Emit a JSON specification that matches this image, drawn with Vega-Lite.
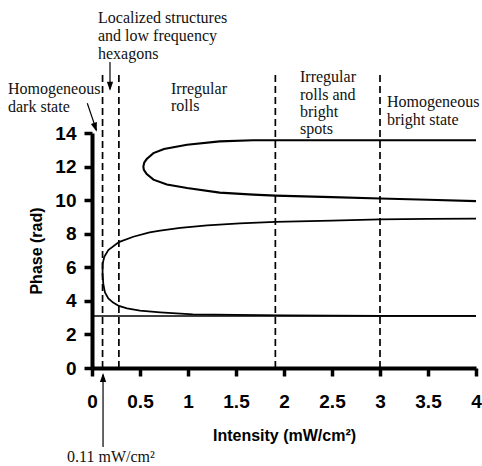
{
  "$schema": "https://vega.github.io/schema/vega-lite/v6.json",
  "width": 384,
  "height": 235,
  "autosize": {"type": "none"},
  "padding": {"left": 92, "top": 133, "right": 6, "bottom": 98},
  "background": "white",
  "config": {"view": {"stroke": null}, "axis": {"grid": false}},
  "datasets": {
    "curves": [
      {"series": "base", "ord": 0, "x": 0, "y": 3.1},
      {"series": "base", "ord": 1, "x": 4, "y": 3.1},
      {"series": "lower", "ord": 0, "x": 4.0, "y": 3.1},
      {"series": "lower", "ord": 1, "x": 3.0, "y": 3.11},
      {"series": "lower", "ord": 2, "x": 2.0, "y": 3.13},
      {"series": "lower", "ord": 3, "x": 1.5, "y": 3.16},
      {"series": "lower", "ord": 4, "x": 1.05, "y": 3.2},
      {"series": "lower", "ord": 5, "x": 0.71, "y": 3.32},
      {"series": "lower", "ord": 6, "x": 0.5, "y": 3.42},
      {"series": "lower", "ord": 7, "x": 0.365, "y": 3.55},
      {"series": "lower", "ord": 8, "x": 0.28, "y": 3.7},
      {"series": "lower", "ord": 9, "x": 0.22, "y": 3.9},
      {"series": "lower", "ord": 10, "x": 0.17, "y": 4.15},
      {"series": "lower", "ord": 11, "x": 0.135, "y": 4.5},
      {"series": "lower", "ord": 12, "x": 0.118, "y": 5.0},
      {"series": "lower", "ord": 13, "x": 0.11, "y": 5.6},
      {"series": "lower", "ord": 14, "x": 0.111, "y": 6.2},
      {"series": "lower", "ord": 15, "x": 0.128, "y": 6.63},
      {"series": "lower", "ord": 16, "x": 0.17, "y": 7.03},
      {"series": "lower", "ord": 17, "x": 0.28, "y": 7.5},
      {"series": "lower", "ord": 18, "x": 0.43, "y": 7.82},
      {"series": "lower", "ord": 19, "x": 0.6, "y": 8.08},
      {"series": "lower", "ord": 20, "x": 0.71, "y": 8.18},
      {"series": "lower", "ord": 21, "x": 0.92, "y": 8.35},
      {"series": "lower", "ord": 22, "x": 1.2, "y": 8.5},
      {"series": "lower", "ord": 23, "x": 1.54, "y": 8.62},
      {"series": "lower", "ord": 24, "x": 1.91, "y": 8.7},
      {"series": "lower", "ord": 25, "x": 2.5, "y": 8.78},
      {"series": "lower", "ord": 26, "x": 3.0, "y": 8.85},
      {"series": "lower", "ord": 27, "x": 3.5, "y": 8.88},
      {"series": "lower", "ord": 28, "x": 4.0, "y": 8.9},
      {"series": "upper", "ord": 0, "x": 4.0, "y": 9.94},
      {"series": "upper", "ord": 1, "x": 3.5, "y": 10.02},
      {"series": "upper", "ord": 2, "x": 3.0, "y": 10.1},
      {"series": "upper", "ord": 3, "x": 2.5, "y": 10.18},
      {"series": "upper", "ord": 4, "x": 1.91, "y": 10.27},
      {"series": "upper", "ord": 5, "x": 1.68, "y": 10.33},
      {"series": "upper", "ord": 6, "x": 1.33, "y": 10.45},
      {"series": "upper", "ord": 7, "x": 0.99, "y": 10.72},
      {"series": "upper", "ord": 8, "x": 0.78, "y": 10.93},
      {"series": "upper", "ord": 9, "x": 0.64, "y": 11.22},
      {"series": "upper", "ord": 10, "x": 0.57, "y": 11.55},
      {"series": "upper", "ord": 11, "x": 0.54, "y": 11.8},
      {"series": "upper", "ord": 12, "x": 0.535, "y": 12.0},
      {"series": "upper", "ord": 13, "x": 0.545, "y": 12.25},
      {"series": "upper", "ord": 14, "x": 0.57, "y": 12.45},
      {"series": "upper", "ord": 15, "x": 0.64, "y": 12.8},
      {"series": "upper", "ord": 16, "x": 0.75, "y": 13.05},
      {"series": "upper", "ord": 17, "x": 0.99, "y": 13.3},
      {"series": "upper", "ord": 18, "x": 1.33, "y": 13.5},
      {"series": "upper", "ord": 19, "x": 1.68, "y": 13.57},
      {"series": "upper", "ord": 20, "x": 2.5, "y": 13.57},
      {"series": "upper", "ord": 21, "x": 4.0, "y": 13.57}
    ],
    "dividers": [
      {"x": 0.11, "y": 0, "y2": 17.63},
      {"x": 0.28, "y": 0, "y2": 17.63},
      {"x": 1.91, "y": 0, "y2": 17.6},
      {"x": 3.0, "y": 0, "y2": 17.6}
    ],
    "labels": [
      {"x": 0.0625, "y": 20.55, "text": "Localized structures"},
      {"x": 0.0625, "y": 19.48, "text": "and low frequency"},
      {"x": 0.0625, "y": 18.41, "text": "hexagons"},
      {"x": -0.875, "y": 16.32, "text": "Homogeneous"},
      {"x": -0.875, "y": 15.25, "text": "dark state"},
      {"x": 0.823, "y": 16.35, "text": "Irregular"},
      {"x": 0.823, "y": 15.31, "text": "rolls"},
      {"x": 2.167, "y": 17.06, "text": "Irregular"},
      {"x": 2.167, "y": 15.97, "text": "rolls and"},
      {"x": 2.167, "y": 14.94, "text": "bright"},
      {"x": 2.167, "y": 13.94, "text": "spots"},
      {"x": 3.073, "y": 15.57, "text": "Homogeneous"},
      {"x": 3.073, "y": 14.48, "text": "bright state"},
      {"x": -0.26, "y": -5.6, "text": "0.11 mW/cm²"}
    ],
    "arrows": [
      {"x": 0.1875, "y": 18.23, "x2": 0.1875, "y2": 16.6},
      {"x": -0.049, "y": 15.77, "x2": 0.046, "y2": 14.17},
      {"x": 0.115, "y": -4.7, "x2": 0.115, "y2": -0.4}
    ],
    "heads": [
      {"x": 0.1875, "y": 16.52, "angle": 0},
      {"x": 0.049, "y": 14.08, "angle": 341.7},
      {"x": 0.115, "y": -0.3, "angle": 180}
    ]
  },
  "encoding": {
    "x": {
      "field": "x",
      "type": "quantitative",
      "scale": {"domain": [0, 4], "nice": false, "zero": false},
      "axis": {
        "values": [0, 0.5, 1, 1.5, 2, 2.5, 3, 3.5, 4],
        "format": "~g",
        "title": "Intensity (mW/cm²)",
        "domainColor": "black",
        "domainWidth": 4,
        "tickColor": "black",
        "tickWidth": 3.5,
        "tickSize": 8,
        "labelFont": "Liberation Sans",
        "labelFontWeight": "bold",
        "labelFontSize": 19,
        "labelColor": "black",
        "labelPadding": 16,
        "labelFlush": false,
        "labelOverlap": false,
        "titleFont": "Liberation Sans",
        "titleFontWeight": "bold",
        "titleFontSize": 16,
        "titleColor": "black",
        "titlePadding": 16
      }
    },
    "y": {
      "field": "y",
      "type": "quantitative",
      "scale": {"domain": [0, 14], "nice": false, "zero": false},
      "axis": {
        "values": [0, 2, 4, 6, 8, 10, 12, 14],
        "title": "Phase (rad)",
        "domainColor": "black",
        "domainWidth": 4,
        "tickColor": "black",
        "tickWidth": 3.5,
        "tickSize": 8,
        "labelFont": "Liberation Sans",
        "labelFontWeight": "bold",
        "labelFontSize": 19,
        "labelColor": "black",
        "labelPadding": 8,
        "labelFlush": false,
        "labelOverlap": false,
        "titleFont": "Liberation Sans",
        "titleFontWeight": "bold",
        "titleFontSize": 16,
        "titleColor": "black",
        "titlePadding": 10
      }
    }
  },
  "layer": [
    {
      "data": {"name": "curves"},
      "mark": {"type": "line", "color": "black", "interpolate": "linear", "clip": false},
      "encoding": {
        "detail": {"field": "series", "type": "nominal"},
        "order": {"field": "ord", "type": "quantitative"},
        "strokeWidth": {
          "field": "series",
          "type": "nominal",
          "scale": {"domain": ["base", "lower", "upper"], "range": [1.4, 2.1, 2.1]},
          "legend": null
        }
      }
    },
    {
      "data": {"name": "dividers"},
      "mark": {"type": "rule", "color": "black", "strokeWidth": 1.7, "strokeDash": [7, 4]},
      "encoding": {
        "y2": {"field": "y2"}
      }
    },
    {
      "data": {"name": "labels"},
      "mark": {"type": "text", "font": "Liberation Serif", "fontSize": 16, "align": "left", "baseline": "alphabetic", "color": "#111"},
      "encoding": {
        "text": {"field": "text", "type": "nominal"}
      }
    },
    {
      "data": {"name": "arrows"},
      "mark": {"type": "rule", "color": "black", "strokeWidth": 1.2},
      "encoding": {
        "x2": {"field": "x2"},
        "y2": {"field": "y2"}
      }
    },
    {
      "data": {"name": "heads"},
      "mark": {"type": "point", "shape": "M0,0 L-0.7,-2 L0.7,-2 Z", "filled": true, "color": "black", "opacity": 1, "size": 81},
      "encoding": {
        "angle": {"field": "angle", "type": "quantitative", "scale": null}
      }
    }
  ]
}
